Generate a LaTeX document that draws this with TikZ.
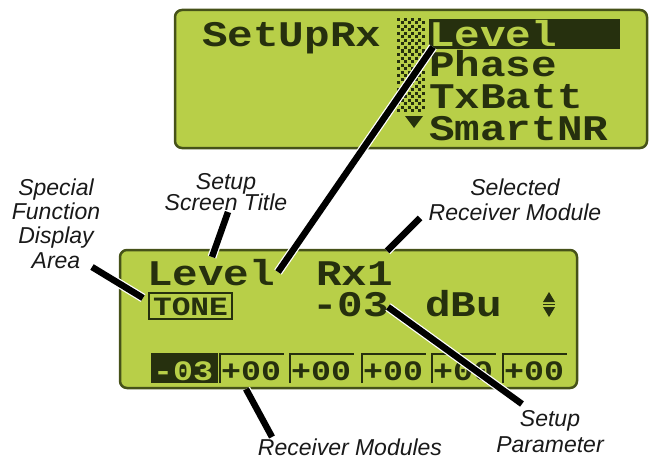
\documentclass[tikz,border=0pt]{standalone}
\usepackage{fontspec}
\usepackage{graphicx}
\setmainfont{Liberation Sans}
\newfontfamily\lcdfont{Liberation Mono}
\definecolor{lcdbg}{RGB}{184,207,72}
\definecolor{lcdedge}{RGB}{70,82,25}
\definecolor{lcdink}{RGB}{38,48,14}
\definecolor{labelink}{RGB}{25,25,25}
% dot-matrix style characters are a little wide and squat
\newcommand{\lcdstr}[1]{\scalebox{1.04}[0.88]{#1}}
\begin{document}
\begin{tikzpicture}[x=1pt,y=-1pt,
  lcdpanel/.style={fill=lcdbg, draw=lcdedge, line width=2.5pt, rounded corners=7pt},
  callout/.style={font=\fontsize{23}{23}\selectfont\itshape, inner sep=0pt, anchor=base, text=labelink},
  lcdtext/.style={font=\lcdfont\bfseries\fontsize{41}{41}\selectfont, inner sep=0pt, anchor=base west,
    text=lcdink, text height=24pt, text depth=1pt},
  modtext/.style={font=\lcdfont\bfseries\fontsize{32}{32}\selectfont, inner sep=0pt, anchor=base west,
    text=lcdink, text height=19pt, text depth=1pt},
  leader/.style={draw=black, line width=6.5pt, preaction={draw=white, line width=9pt}}]
\useasboundingbox (0,0) rectangle (652,460);

% ---- upper display: set-up menu ----
\draw[lcdpanel] (175,10) rectangle (647,148);
\node[lcdtext] (tSetUp) at (202,47) {\lcdstr{SetUpRx}};
% dotted scroll column
\foreach \j in {0,...,26}{
  \pgfmathsetmacro\off{mod(\j,2)*3.5}
  \foreach \i in {0,...,3}
    \fill[lcdink] (397+\off+7*\i,18+3.5*\j) rectangle ++(3,3);
}
\fill[lcdink] (405,116) -- (423,116) -- (414,128) -- cycle;
% highlighted entry
\fill[lcdink] (429,19) rectangle (620,49);
\node[lcdtext, text=lcdbg] (tLevel) at (429,46) {\lcdstr{Level}};
\node[lcdtext] (tPhase) at (429,76) {\lcdstr{Phase}};
\node[lcdtext] (tTxBatt) at (429,108) {\lcdstr{TxBatt}};
\node[lcdtext] (tSmart) at (429,140) {\lcdstr{SmartNR}};

% ---- lower display: level screen ----
\draw[lcdpanel] (120,250) rectangle (577,388);
\node[lcdtext] (bLevel) at (147,285) {\lcdstr{Level}};
\node[lcdtext] (bRx) at (316,285) {\lcdstr{Rx1}};
\node[lcdtext] (bVal) at (312,316) {\lcdstr{-03}};
\node[lcdtext] (bUnit) at (425,316) {\lcdstr{dBu}};
% up/down arrows
\fill[lcdink] (543,302) -- (555,302) -- (549,292) -- cycle;
\fill[lcdink] (543,307) -- (555,307) -- (549,317) -- cycle;
\draw[lcdink, line width=1.2pt] (543,304.5) -- (555,304.5);
% special function box
\draw[lcdink, line width=2.5pt] (149,293) rectangle (232,319);
\node[font=\lcdfont\bfseries\fontsize{24}{24}\selectfont, text=lcdink, inner sep=0pt] (tone) at (190.5,306.5) {\scalebox{1.3}[1.1]{TONE}};
% receiver module row
\fill[lcdink] (151,353) rectangle (218,383);
\node[modtext, text=lcdbg] (mod0) at (153,380) {\lcdstr{-03}};
\foreach \x in {220,290,362,432,503}{
  \draw[lcdink, line width=2.5pt] (\x,383) -- (\x,354) -- (\x+64,354);
  \node[modtext] (mod\x) at (\x+1,380) {\lcdstr{+00}};
}

% ---- callout labels ----
\node[callout] (sfa1) at (56,195) {Special};
\node[callout] (sfa2) at (56,219) {Function};
\node[callout] (sfa3) at (56,243) {Display};
\node[callout] (sfa4) at (56,268) {Area};
\node[callout] (sst1) at (226,189) {Setup};
\node[callout] (sst2) at (226,210) {Screen Title};
\node[callout] (srm1) at (515,195) {Selected};
\node[callout] (srm2) at (515,220) {Receiver Module};
\node[callout] (spa1) at (550,426) {Setup};
\node[callout] (spa2) at (550,452) {Parameter};
\node[callout] (rmod) at (350,455) {Receiver Modules};

% ---- leader lines ----
\coordinate (lvTop) at (433,47);
\coordinate (lvBot) at (278,272);
\coordinate (titA) at (228,212);
\coordinate (titB) at (212,257);
\coordinate (sfaA) at (92,267);
\coordinate (sfaB) at (143,298);
\coordinate (rxA) at (420,218);
\coordinate (rxB) at (387,251);
\coordinate (parA) at (388,307);
\coordinate (parB) at (522,404);
\coordinate (modA) at (246,389);
\coordinate (modB) at (272,437);
\draw[leader] (lvTop) -- (lvBot);
\draw[leader] (titA) -- (titB);
\draw[leader] (sfaA) -- (sfaB);
\draw[leader] (rxA) -- (rxB);
\draw[leader] (parA) -- (parB);
\draw[leader] (modA) -- (modB);
\end{tikzpicture}
\end{document}
